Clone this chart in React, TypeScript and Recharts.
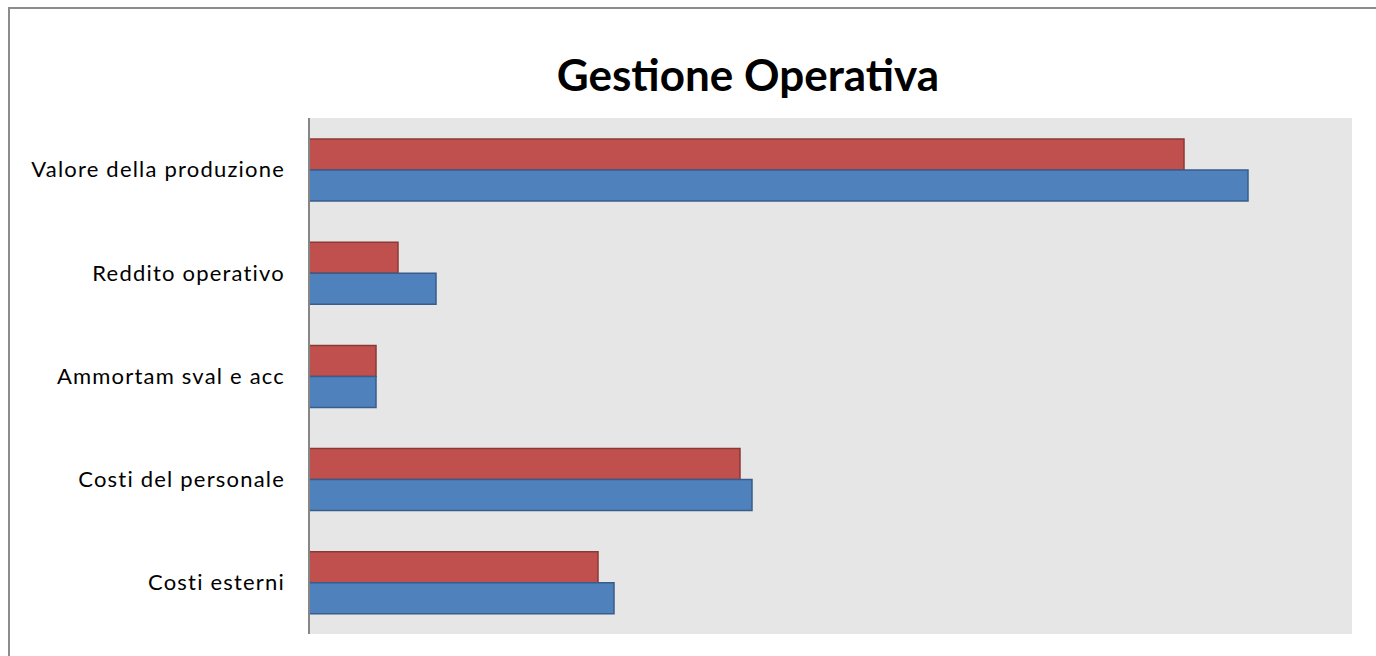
import { BarChart, Bar, XAxis, YAxis, CartesianGrid } from 'recharts';

const categories = [
  'Valore della produzione',
  'Reddito operativo',
  'Ammortam sval e acc',
  'Costi del personale',
  'Costi esterni',
];
// red series (upper bar in each group)
const serieA = [875, 89, 67, 431, 289];
// blue series (lower bar)
const serieB = [939, 127, 67, 443, 305];

const data = categories.map((name, i) => ({ name, serieA: serieA[i], serieB: serieB[i] }));

const App = () => (
  <div style={{ position: 'absolute', left: 0, top: 0, width: 1376, height: 656, overflow: 'hidden', background: '#fff' }}>
    <div
      style={{
        position: 'absolute',
        left: 8,
        top: 7,
        width: 1368,
        height: 649,
        boxSizing: 'border-box',
        borderTop: '2px solid #8c8c8c',
        borderLeft: '2px solid #8c8c8c',
      }}
    />
    <div
      style={{
        position: 'absolute',
        left: 348,
        top: 45,
        width: 800,
        textAlign: 'center',
        fontFamily: 'Lato, sans-serif',
        fontWeight: 700,
        fontSize: 44,
        lineHeight: '58px',
        color: '#000',
      }}
    >
      Gestione Operativa
    </div>
    <div style={{ position: 'absolute', left: 0, top: 0 }}>
      <BarChart
        width={1376}
        height={656}
        data={data}
        layout="vertical"
        margin={{ top: 118, right: 24, bottom: 22, left: 0 }}
        barGap={0}
        barSize={31}
      >
        <CartesianGrid fill="#e6e6e6" horizontal={false} vertical={false} />
        <XAxis type="number" domain={[0, 1043]} hide />
        <YAxis
          type="category"
          dataKey="name"
          width={309}
          axisLine={{ stroke: '#868686', strokeWidth: 2 }}
          tickLine={false}
          tickSize={0}
          tickMargin={24}
          tick={{ fill: '#000', fontFamily: 'Lato, sans-serif', fontSize: 22, letterSpacing: 1.2 }}
        />
        <Bar dataKey="serieA" fill="#C0504D" stroke="#8C3836" strokeWidth={1.5} isAnimationActive={false} />
        <Bar dataKey="serieB" fill="#4F81BD" stroke="#385D8A" strokeWidth={1.5} isAnimationActive={false} />
      </BarChart>
    </div>
  </div>
);

export default App;
